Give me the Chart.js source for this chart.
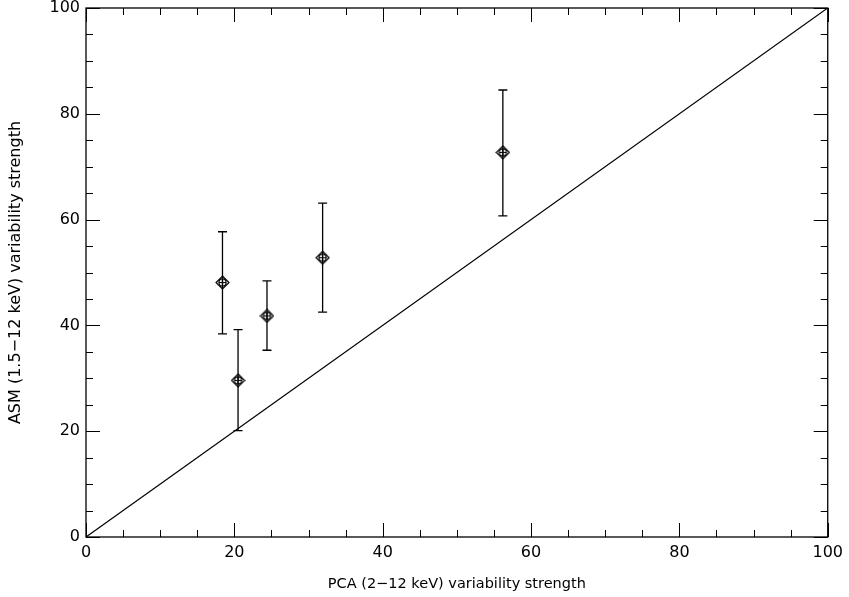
<!DOCTYPE html>
<html>
<head>
<meta charset="utf-8">
<script src="https://cdn.jsdelivr.net/npm/chart.js@4/dist/chart.umd.min.js"></script>
<style>
  html, body { margin: 0; padding: 0; background: #fff; }
  #wrap { width: 849px; height: 597px; }
</style>
</head>
<body>
<div id="wrap"><canvas id="c"></canvas></div>
<script>
// PCA vs ASM variability strength, with 1-sigma ranges on ASM
const pcaStrength = [18.4, 20.5, 24.4, 31.9, 56.2];
const asmStrength = [48.1, 29.6, 41.8, 52.8, 72.7];
const asmHigh = [57.7, 39.2, 48.4, 63.1, 84.5];
const asmLow = [38.4, 20.1, 35.3, 42.5, 60.7];
const diagonal = [[0, 0], [100, 100]];

const xTitle = 'PCA (2\u221212 keV) variability strength';
const yTitle = 'ASM (1.5\u221212 keV) variability strength';

const FONT = "'DejaVu Sans', sans-serif";

// diamond with a circled cross inside
function makeMarker() {
    const s = 15, c = s / 2;
    const cv = document.createElement('canvas');
    cv.width = s; cv.height = s;
    const g = cv.getContext('2d');
    g.strokeStyle = '#000';
    g.lineWidth = 1.2;
    g.beginPath();
    g.moveTo(c, 1); g.lineTo(s - 1, c); g.lineTo(c, s - 1); g.lineTo(1, c); g.closePath();
    g.stroke();
    g.beginPath();
    g.arc(c, c, 3.6, 0, Math.PI * 2);
    g.stroke();
    g.beginPath();
    g.moveTo(c - 3.6, c); g.lineTo(c + 3.6, c);
    g.moveTo(c, c - 3.6); g.lineTo(c, c + 3.6);
    g.stroke();
    return cv;
}

const errorBars = {
    id: 'errorBars',
    afterDatasetsDraw(chart) {
        const ctx = chart.ctx;
        const xs = chart.scales.x, ys = chart.scales.y;
        ctx.save();
        ctx.strokeStyle = '#000';
        ctx.lineWidth = 1.3;
        pcaStrength.forEach((v, i) => {
            const px = xs.getPixelForValue(v);
            const top = ys.getPixelForValue(asmHigh[i]);
            const bot = ys.getPixelForValue(asmLow[i]);
            ctx.beginPath();
            ctx.moveTo(px, top); ctx.lineTo(px, bot);
            ctx.moveTo(px - 4.5, top); ctx.lineTo(px + 4.5, top);
            ctx.moveTo(px - 4.5, bot); ctx.lineTo(px + 4.5, bot);
            ctx.stroke();
        });
        ctx.restore();
    }
};

// frame with inward ticks on all four sides
const frame = {
    id: 'frame',
    afterDraw(chart) {
        const ctx = chart.ctx;
        const a = chart.chartArea;
        const xs = chart.scales.x, ys = chart.scales.y;
        ctx.save();
        ctx.strokeStyle = '#000';
        ctx.lineWidth = 1.3;
        ctx.strokeRect(a.left, a.top, a.right - a.left, a.bottom - a.top);
        ctx.lineWidth = 1;
        ctx.beginPath();
        for (let v = 0; v <= 100; v += 5) {
            const len = v % 20 === 0 ? 14 : 7;
            const px = Math.round(xs.getPixelForValue(v)) + 0.5;
            ctx.moveTo(px, a.bottom); ctx.lineTo(px, a.bottom - len);
            ctx.moveTo(px, a.top); ctx.lineTo(px, a.top + len);
            const py = Math.round(ys.getPixelForValue(v)) + 0.5;
            ctx.moveTo(a.left, py); ctx.lineTo(a.left + len, py);
            ctx.moveTo(a.right, py); ctx.lineTo(a.right - len, py);
        }
        ctx.stroke();
        ctx.restore();
    }
};

new Chart(document.getElementById('c'), {
    type: 'scatter',
    data: {
        datasets: [
            {
                label: 'one-to-one',
                type: 'line',
                data: diagonal.map(p => ({ x: p[0], y: p[1] })),
                borderColor: '#000',
                borderWidth: 1.2,
                pointRadius: 0,
                fill: false,
            },
            {
                label: 'sources',
                data: pcaStrength.map((v, i) => ({ x: v, y: asmStrength[i] })),
                pointStyle: makeMarker(),
                pointRadius: 7,
                borderColor: '#000',
                backgroundColor: 'transparent',
            },
        ],
    },
    options: {
        responsive: true,
        maintainAspectRatio: false,
        animation: false,
        devicePixelRatio: 1,
        layout: { padding: { top: 0, right: 19, left: 0, bottom: 0 } },
        plugins: {
            legend: { display: false },
            tooltip: { enabled: false },
        },
        scales: {
            x: {
                type: 'linear',
                min: 0, max: 100,
                grid: { display: false, drawTicks: false },
                border: { display: false },
                ticks: {
                    stepSize: 20,
                    padding: 6,
                    color: '#000',
                    font: { family: FONT, size: 16 },
                    maxRotation: 0,
                },
                title: {
                    display: true,
                    text: xTitle,
                    color: '#000',
                    font: { family: FONT, size: 14.5 },
                    padding: { top: 0 },
                },
                afterFit: s => { s.height = 60; },
            },
            y: {
                type: 'linear',
                min: 0, max: 100,
                grid: { display: false, drawTicks: false },
                border: { display: false },
                ticks: {
                    stepSize: 20,
                    padding: 6,
                    color: '#000',
                    // tiny lineHeight keeps the top label from pushing the plot down
                    font: { family: FONT, size: 16, lineHeight: 0.1 },
                },
                title: {
                    display: true,
                    text: yTitle,
                    color: '#000',
                    font: { family: FONT, size: 16 },
                    padding: { top: 6, bottom: 0 },
                },
                afterFit: s => { s.width = 86; },
            },
        },
    },
    plugins: [errorBars, frame],
});
</script>
</body>
</html>
